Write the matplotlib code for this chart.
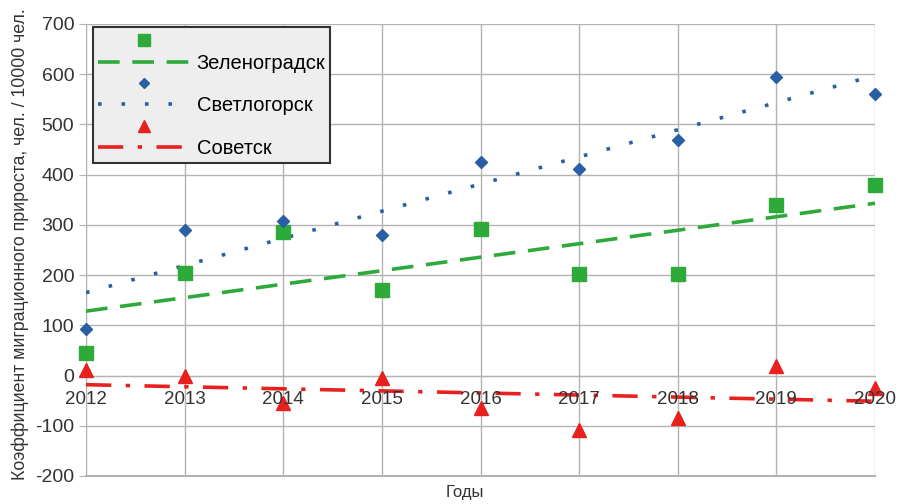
import numpy as np
import matplotlib.pyplot as plt
from matplotlib.lines import Line2D
from matplotlib.transforms import offset_copy

plt.rcParams['font.family'] = ['Liberation Sans', 'DejaVu Sans']
plt.rcParams['axes.unicode_minus'] = False

# Years and migration growth coefficient, per 10000 people
years = [2012, 2013, 2014, 2015, 2016, 2017, 2018, 2019, 2020]
zelenogradsk = [45, 205, 285, 170, 292, 202, 202, 340, 380]
svetlogorsk = [92, 290, 308, 280, 425, 412, 470, 595, 560]
sovetsk = [11, 0, -55, -5, -65, -108, -85, 20, -25]

names = ['Зеленоградск', 'Светлогорск', 'Советск']
colors = ['#2eaa3a', '#2a5fa5', '#e8201e']
markers = ['s', 'D', '^']
msizes = [10, 6.5, 10]
dashes = [(6, 3.5), (1.0, 5.5), (7, 4, 1.2, 4)]

fig = plt.figure(figsize=(8.98, 5.04), dpi=100)
ax = fig.add_axes([86/898, 28/504, 789/898, 452/504])

x = np.array(years)
handles = []
labels = []
for vals, name, c, m, ms, d in zip([zelenogradsk, svetlogorsk, sovetsk],
                                   names, colors, markers, msizes, dashes):
    # linear trend line
    k, b = np.polyfit(x, vals, 1)
    ax.plot(x, k*x + b, color=c, lw=2.6, dashes=d, zorder=3)
    ax.plot(x, vals, linestyle='none', marker=m, color=c, markersize=ms,
            clip_on=False, zorder=4)
    handles.append(Line2D([], [], linestyle='none', marker=m, color=c, markersize=ms*0.8))
    labels.append(' ')
    handles.append(Line2D([], [], color=c, lw=2.6, dashes=d))
    labels.append(name)

ax.set_xlim(2012, 2020)
ax.set_ylim(-200, 700)
ax.set_xticks(years)
ax.set_xticklabels([])
ax.set_yticks(range(-200, 701, 100))
ax.grid(True, color='#b3b3b3', lw=1)
ax.set_axisbelow(True)

for s in ['top', 'right']:
    ax.spines[s].set_visible(False)
ax.spines['left'].set_color('#b3b3b3')
ax.spines['bottom'].set_position(('data', 0))
ax.spines['bottom'].set_color('#b3b3b3')
ax.axhline(-200, color='#b3b3b3', lw=1.5, clip_on=False)

# year labels sit on the zero line, above the trend lines
tr = offset_copy(ax.transData, fig=fig, x=0, y=-24, units='dots')
for yr in years:
    ax.text(yr, 0, str(yr), transform=tr, ha='center', va='center',
            fontsize=13.5, color='#333333', zorder=6, clip_on=False)

ax.tick_params(axis='x', length=0)
ax.tick_params(axis='y', length=5, color='#b3b3b3', labelsize=14, labelcolor='#333333')

ax.set_ylabel('Коэффициент миграционного прироста, чел. / 10000 чел.',
              fontsize=12.8, color='#333333')
ax.yaxis.set_label_coords(-0.072, 0.512)
fig.text(465/898, 1 - 492/504, 'Годы', ha='center', va='center',
         fontsize=12, color='#333333')

leg = ax.legend(handles, labels, loc='upper left', bbox_to_anchor=(0.009, 0.993),
                borderaxespad=0, fontsize=14.5, handlelength=4.6, labelspacing=0.12,
                handletextpad=0.3, borderpad=0.25,
                fancybox=False, framealpha=1, facecolor='#eeeeee',
                edgecolor='#333333')
leg.get_frame().set_linewidth(1.5)
leg.set_zorder(5)

fig.savefig('out.png', dpi=100)
